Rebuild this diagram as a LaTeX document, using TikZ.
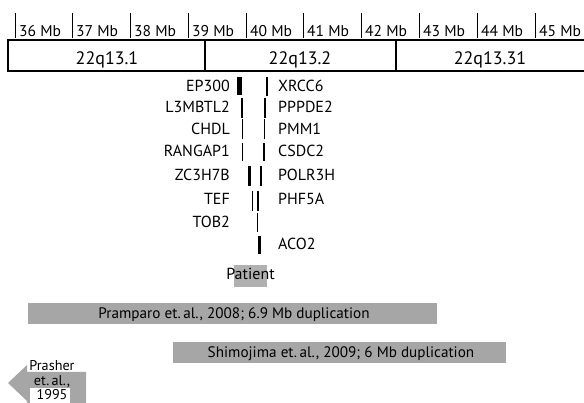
\documentclass[tikz,border=0pt]{standalone}
\usepackage{fontspec}
\setmainfont{PT Sans}
\usetikzlibrary{positioning}
\definecolor{dupgray}{HTML}{A6A6A6}
\definecolor{patgray}{HTML}{B0B0B0}

\begin{document}
\begin{tikzpicture}[
            x=1pt, y=-1pt,
            tick/.style={draw, line width=0.6pt},
            mb/.style={anchor=base west, inner sep=0pt, font=\fontsize{15.6}{16}\selectfont},
            band/.style={rectangle, draw, line width=1.4pt, minimum height=31pt, inner sep=0pt},
            bandlabel/.style={anchor=base, inner sep=0pt, font=\fontsize{18}{18}\selectfont},
            lgene/.style={anchor=base east, inner sep=0pt, font=\fontsize{16}{16}\selectfont},
            rgene/.style={anchor=base west, inner sep=0pt, font=\fontsize{16}{16}\selectfont},
            dup/.style={rectangle, fill=dupgray, inner sep=0pt, minimum height=21pt},
            duplabel/.style={anchor=base, inner sep=0pt, font=\fontsize{15.2}{16}\selectfont}
        ]
            \useasboundingbox (0,0) rectangle (584,403);

            % Scale
            \draw [tick] (15,13) -- (15,38);   \node [mb] (mb36) at (19,37) {36 Mb};
            \draw [tick] (72,13) -- (72,38);   \node [mb] (mb37) at (76,37) {37 Mb};
            \draw [tick] (130,13) -- (130,38); \node [mb] (mb38) at (134,37) {38 Mb};
            \draw [tick] (188,13) -- (188,38); \node [mb] (mb39) at (192,37) {39 Mb};
            \draw [tick] (246,13) -- (246,38); \node [mb] (mb40) at (250,37) {40 Mb};
            \draw [tick] (303,13) -- (303,38); \node [mb] (mb41) at (307,37) {41 Mb};
            \draw [tick] (361,13) -- (361,38); \node [mb] (mb42) at (365,37) {42 Mb};
            \draw [tick] (419,13) -- (419,38); \node [mb] (mb43) at (423,37) {43 Mb};
            \draw [tick] (477,13) -- (477,38); \node [mb] (mb44) at (481,37) {44 Mb};
            \draw [tick] (535,13) -- (535,38); \node [mb] (mb45) at (539,37) {45 Mb};

            % Bands
            \node [band, minimum width=197pt] (q131) at (106.5,55.5) {};
            \node [band, minimum width=191pt] (q132) at (300.5,55.5) {};
            \node [band, minimum width=194pt] (q1331) at (493,55.5) {};
            \node [bandlabel] at (107,65) {22q13.1};
            \node [bandlabel] at (300,65) {22q13.2};
            \node [bandlabel] at (490,65) {22q13.31};

            % Genes
            \node [lgene] (ep300) at (230,92) {EP300};
            \node [lgene] (l3mbtl2) at (230,113) {L3MBTL2};
            \node [lgene] (chdl) at (230,135) {CHDL};
            \node [lgene] (rangap1) at (230,157) {RANGAP1};
            \node [lgene] (zc3h7b) at (230,181) {ZC3H7B};
            \node [lgene] (tef) at (230,205) {TEF};
            \node [lgene] (tob2) at (230,228) {TOB2};
            \node [rgene] (xrcc6) at (278,92) {XRCC6};
            \node [rgene] (pppde2) at (278,113) {PPPDE2};
            \node [rgene] (pmm1) at (278,135) {PMM1};
            \node [rgene] (csdc2) at (278,157) {CSDC2};
            \node [rgene] (polr3h) at (278,181) {POLR3H};
            \node [rgene] (phf5a) at (278,205) {PHF5A};
            \node [rgene] (aco2) at (278,250) {ACO2};

            % Gene bars
            \fill (236.5,77) rectangle (241.5,95);
            \fill (265.5,77) rectangle (268,96);
            \fill (241,98) rectangle (243,118);
            \fill (264,98) rectangle (265.7,118);
            \fill (241.5,119) rectangle (243,139);
            \fill (264,119) rectangle (265.3,139);
            \fill (241.5,143) rectangle (243,161);
            \fill (263.3,143) rectangle (264.7,161);
            \fill (247.5,166) rectangle (251.3,186);
            \fill (259.8,166) rectangle (261.5,186);
            \fill (251.5,191) rectangle (253.3,211);
            \fill (257,191) rectangle (258.5,211);
            \fill (256.5,213) rectangle (258.3,232);
            \fill (257.5,236) rectangle (260.5,254);

            % Patient
            \fill [patgray] (234,265) rectangle (267,287);
            \node [lgene, anchor=base] (patient) at (250.5,280) {Patient};

            % Duplications
            \node [dup, minimum width=409pt] (pramparo) at (232.5,313.5) {};
            \node [duplabel] at (234,319) {Pramparo et.\,al., 2008; 6.9 Mb duplication};
            \node [dup, minimum width=333pt] (shimojima) at (339.5,352.5) {};
            \node [duplabel] at (341,358) {Shimojima et.\,al., 2009; 6 Mb duplication};

            % Prasher
            \fill [dupgray] (86,372) -- (27,372) -- (27,365) -- (8,383) -- (27,401) -- (27,410) -- (86,410) -- cycle;
            \fill [white] (30,388) rectangle (70,410);
            \node [align=center, anchor=base, inner sep=0pt, font=\fontsize{14.2}{14.5}\selectfont] (prasher) at (52,399.5) {Prasher\\et.\,al.,\\1995};
        \end{tikzpicture}
\end{document}
